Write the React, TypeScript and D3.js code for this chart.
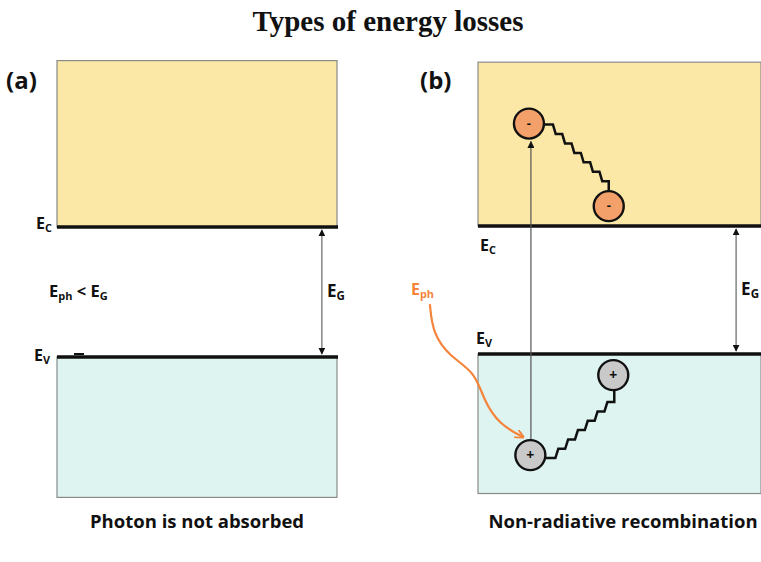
import React from "react";
import * as d3 from "d3";

// ---- data ----
const title = "Types of energy losses";
const panelLabels = ["(a)", "(b)"];
const captions = ["Photon is not absorbed", "Non-radiative recombination"];
// band energies (arbitrary units, Ev = 0, Ec = 1)
const bandTop = 2.28;
const bandEc = 1.0;
const bandEv = 0.0;
const bandBottom = [-1.08, -1.09];
// carriers in panel (b): [x fraction across panel, energy]
const electrons: [number, number][] = [[0.18, 1.8], [0.462, 1.155]];
const holes: [number, number][] = [[0.478, -0.165], [0.185, -0.79]];
// photon path in panel (b) coordinates
const photonPath: [number, number][] = [
  [-0.17, 0.39], [-0.16, 0.16], [-0.1, -0.02], [-0.01, -0.14], [0.02, -0.36], [0.075, -0.55], [0.16, -0.65],
];
const absorptionX = 0.187;
const gapArrowX = [0.946, 0.912];

export default function App() {
  const W = 761, H = 562;
  const panels = [
    { x0: 57, x1: 337, yEc: 227, yEv: 357 },
    { x0: 478, x1: 761, yEc: 226, yEv: 354 },
  ];
  const scales = panels.map((p, i) => {
    const y = d3.scaleLinear().domain([bandEv, bandEc]).range([p.yEv, p.yEc]);
    const x = d3.scaleLinear().domain([0, 1]).range([p.x0, p.x1]);
    return { x, y, bottom: bandBottom[i] };
  });
  const sans = "'Open Sans', 'DejaVu Sans', sans-serif";
  const yellow = "#fce8a6";
  const cyan = "#ddf4f1";
  const orange = "#f5843a";
  const r = 15;

  const stair = (x0: number, y0: number, x1: number, y1: number, n: number, lead: number, tail: number, up: boolean) => {
    const pts: [number, number][] = [[x0, y0], [x0 + lead, y0]];
    const sx = (x1 - x0 - lead) / n;
    const sy = (y1 - y0 + (up ? tail : -tail)) / n;
    let cx = x0 + lead, cy = y0;
    for (let k = 0; k < n; k++) {
      cx += sx * 0.3; cy += sy;
      pts.push([cx, cy]);
      cx += sx * 0.7;
      pts.push([cx, cy]);
    }
    pts.push([x1, y1]);
    return d3.line()(pts) as string;
  };

  const sb = scales[1];
  const e1 = [sb.x(electrons[0][0]), sb.y(electrons[0][1])];
  const e2 = [sb.x(electrons[1][0]), sb.y(electrons[1][1])];
  const h1 = [sb.x(holes[0][0]), sb.y(holes[0][1])];
  const h2 = [sb.x(holes[1][0]), sb.y(holes[1][1])];
  const photonLine = d3.line().curve(d3.curveBasis)(photonPath.map(([px, e]) => [sb.x(px), sb.y(e)] as [number, number])) as string;

  const sub = (main: string, s: string, x: number, y: number, size: number, color = "#111") => (
    <text x={x} y={y} fontFamily={sans} fontWeight={700} fontSize={size} fill={color}>
      {main}<tspan fontSize={size * 0.68} dy={size * 0.18}>{s}</tspan>
    </text>
  );

  return (
    <svg width={W} height={H} style={{ position: "absolute", left: 0, top: 0, background: "#fff" }}>
      <defs>
        <marker id="ah" viewBox="0 0 10 10" refX="9" refY="5" markerWidth="7" markerHeight="7" orient="auto-start-reverse" markerUnits="userSpaceOnUse">
          <path d="M0,0 L10,5 L0,10 z" fill="#111" />
        </marker>
        <marker id="aho" viewBox="0 0 10 10" refX="9" refY="5" markerWidth="9" markerHeight="9" orient="auto" markerUnits="userSpaceOnUse">
          <path d="M0,0 L10,5 L0,10" fill="none" stroke={orange} strokeWidth={2} />
        </marker>
      </defs>
      <text x={388} y={31} textAnchor="middle" fontFamily="'Liberation Serif', 'Times New Roman', serif" fontWeight={700} fontSize={29} fill="#111">{title}</text>

      {scales.map((s, i) => {
        const p = panels[i];
        const yTop = s.y(bandTop), yEc = s.y(bandEc), yEv = s.y(bandEv), yBot = s.y(s.bottom);
        const ax = s.x(gapArrowX[i]);
        return (
          <g key={i}>
            <rect x={p.x0} y={yTop} width={p.x1 - p.x0} height={yEc - yTop} fill={yellow} stroke="#8a8a8a" strokeWidth={1.2} />
            <rect x={p.x0} y={yEv} width={p.x1 - p.x0} height={yBot - yEv} fill={cyan} stroke="#8a8a8a" strokeWidth={1.2} />
            <line x1={p.x0} x2={p.x1 + 1} y1={yEc} y2={yEc} stroke="#111" strokeWidth={3.5} />
            <line x1={p.x0} x2={p.x1 + 1} y1={yEv} y2={yEv} stroke="#111" strokeWidth={3.5} />
            <line x1={ax} x2={ax} y1={yEc + 3} y2={yEv - 3} stroke="#666" strokeWidth={1.2} markerStart="url(#ah)" markerEnd="url(#ah)" />
            {sub("E", "G", ax + 5, (yEc + yEv) / 2 + 5, 17)}
            <text x={i === 0 ? 6 : 420} y={89} fontFamily={sans} fontWeight={700} fontSize={24} fill="#111">{panelLabels[i]}</text>
            <text x={i === 0 ? 197 : 623} y={528} textAnchor="middle" fontFamily={sans} fontWeight={700} fontSize={18.5} fill="#111">{captions[i]}</text>
          </g>
        );
      })}

      {/* panel (a) labels */}
      {sub("E", "C", 36, 229, 16)}
      {sub("E", "V", 34, 361, 16)}
      <text x={49} y={297} fontFamily={sans} fontWeight={700} fontSize={16.5} fill="#111">
        E<tspan fontSize={11} dy={3}>ph</tspan><tspan dy={-3}> &lt; E</tspan><tspan fontSize={11} dy={3}>G</tspan>
      </text>
      <line x1={74} x2={84} y1={354} y2={354} stroke="#111" strokeWidth={2} />

      {/* panel (b) labels */}
      {sub("E", "C", 480, 251, 16)}
      {sub("E", "V", 476, 344, 16)}
      {sub("E", "ph", 411, 295, 16, orange)}

      {/* absorption line */}
      <line x1={sb.x(absorptionX)} x2={sb.x(absorptionX)} y1={h2[1] - r} y2={e1[1] + r + 3} stroke="#555" strokeWidth={1.2} markerEnd="url(#ah)" />

      {/* photon */}
      <path d={photonLine} fill="none" stroke={orange} strokeWidth={2.2} markerEnd="url(#aho)" />

      {/* zigzags */}
      <path d={stair(e1[0] + r, e1[1] + 1, e2[0], e2[1] - r, 6, 9, 10, false)} fill="none" stroke="#111" strokeWidth={2.5} />
      <path d={stair(h2[0] + r, h2[1] + 3, h1[0] + 1, h1[1] + r, 6, 10, 12, true)} fill="none" stroke="#111" strokeWidth={2.5} />

      {electrons.map(([ex, ee], k) => (
        <g key={"e" + k}>
          <circle cx={sb.x(ex)} cy={sb.y(ee)} r={r} fill="#f4a06a" stroke="#111" strokeWidth={2.4} />
          <text x={sb.x(ex)} y={sb.y(ee) + 4} textAnchor="middle" fontFamily={sans} fontWeight={700} fontSize={13} fill="#111">-</text>
        </g>
      ))}
      {holes.map(([hx, he], k) => (
        <g key={"h" + k}>
          <circle cx={sb.x(hx)} cy={sb.y(he)} r={r} fill="#c9c9c9" stroke="#111" strokeWidth={2.4} />
          <text x={sb.x(hx)} y={sb.y(he) + 5} textAnchor="middle" fontFamily={sans} fontWeight={700} fontSize={14} fill="#111">+</text>
        </g>
      ))}
    </svg>
  );
}
